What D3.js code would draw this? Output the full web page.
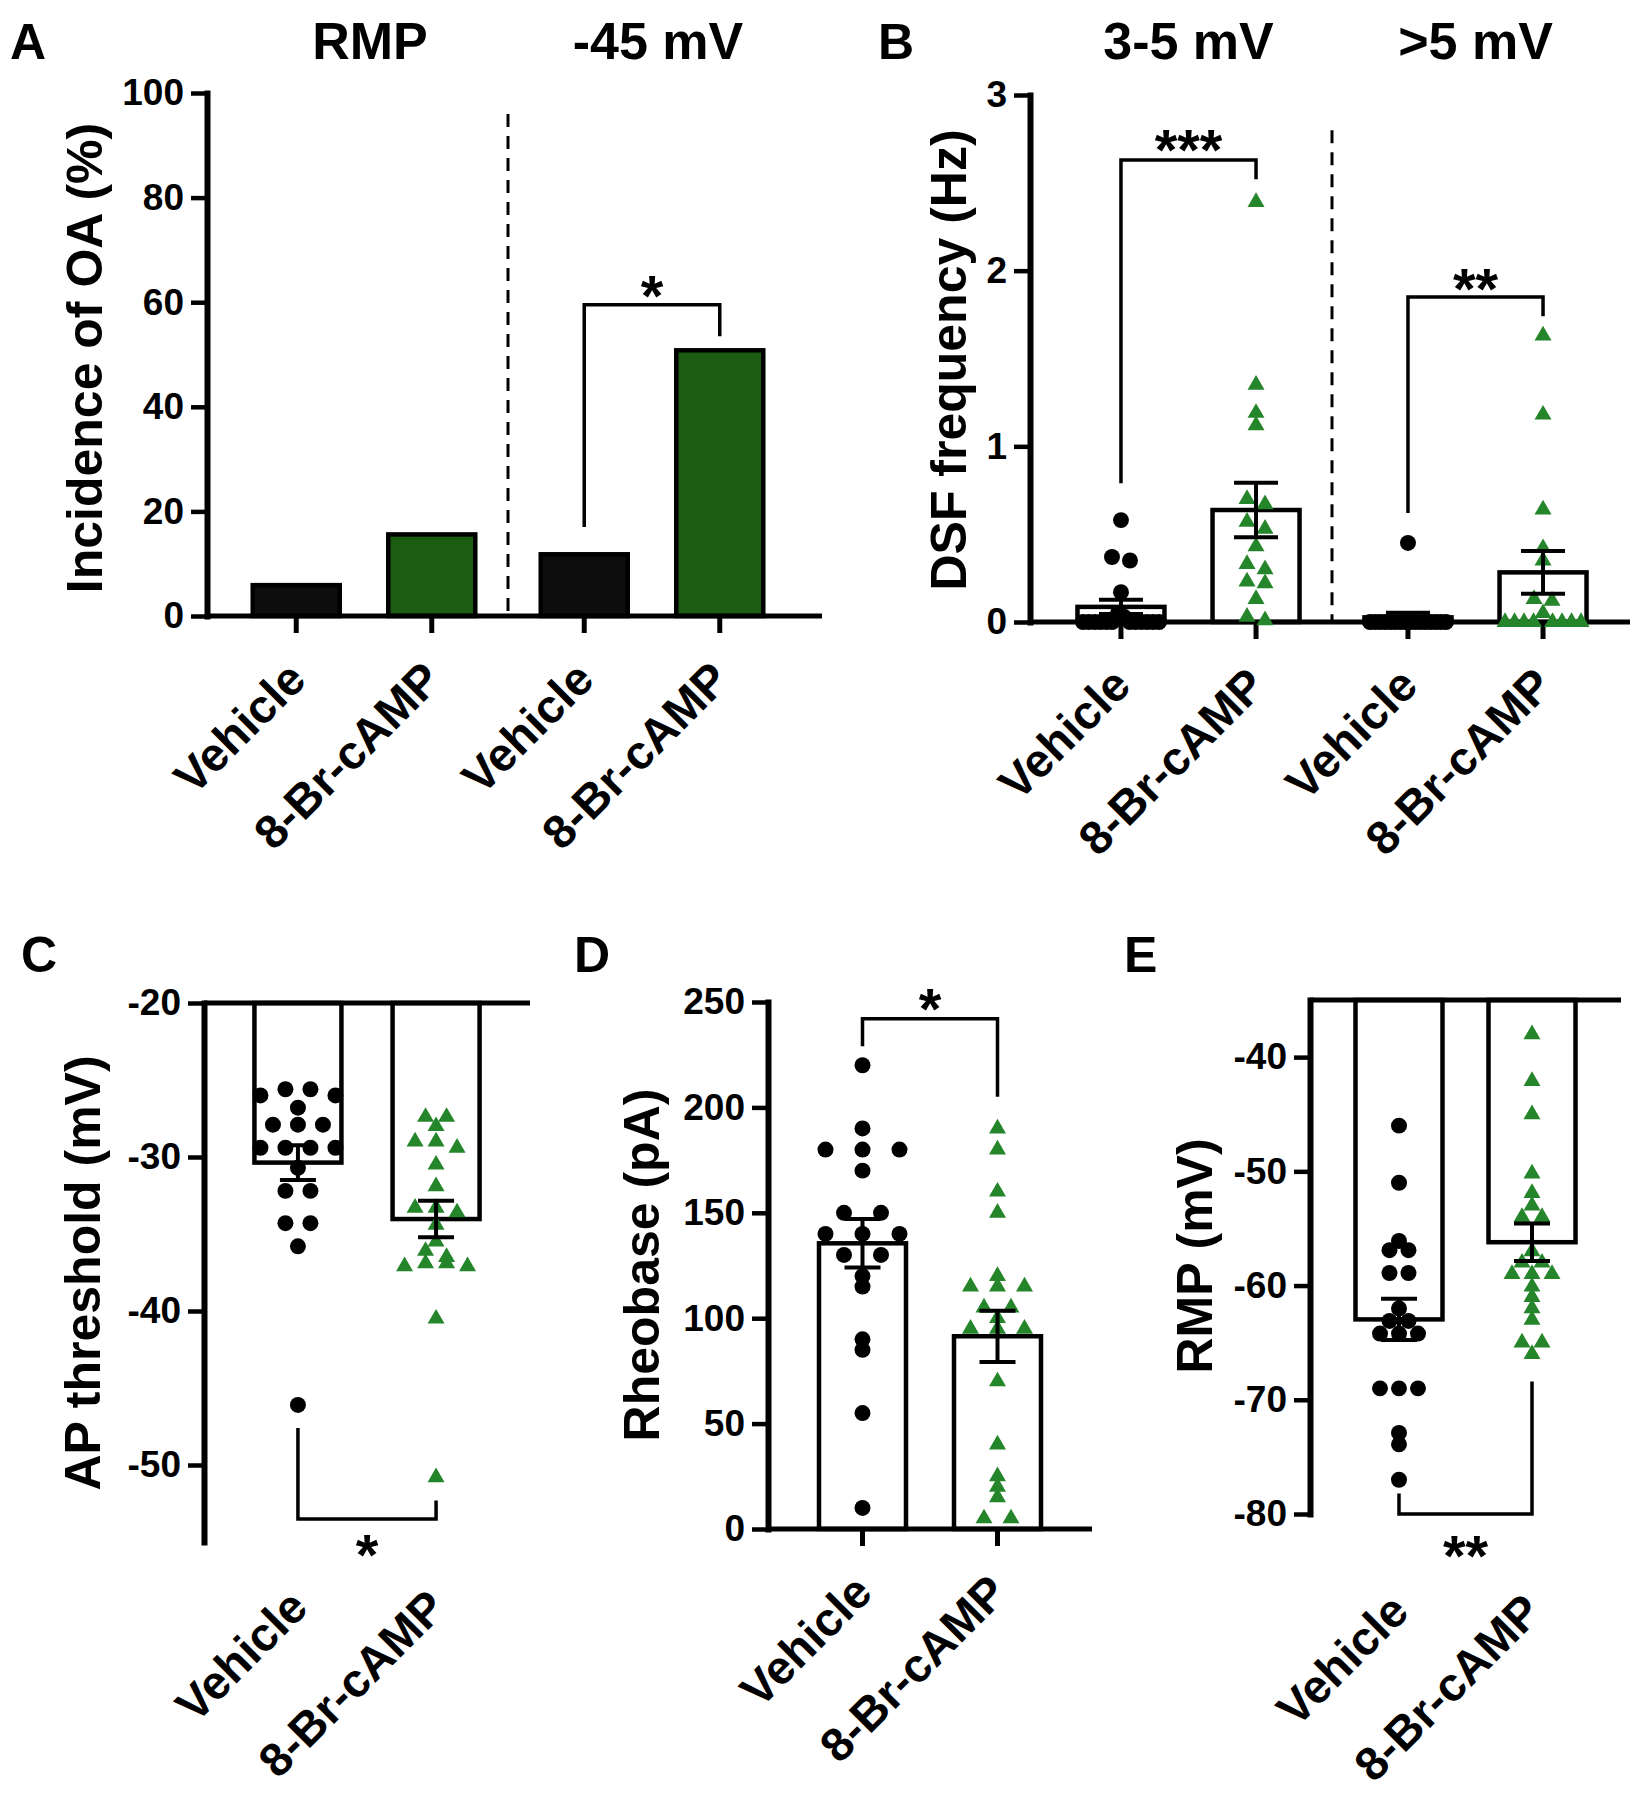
<!DOCTYPE html>
<html><head><meta charset="utf-8">
<script src="https://cdn.jsdelivr.net/npm/d3@7"></script>
<style>
body{margin:0;background:#fff;}
svg text{font-family:"Liberation Sans",Arial,Helvetica,sans-serif;font-weight:bold;fill:#000;}
</style></head><body>
<svg id="chart" width="1645" height="1800"></svg>
<script>
// ================= DATA =================
const conditions = ["Vehicle", "8-Br-cAMP"];

// Panel A – incidence of OA (%)
const groupsA = ["RMP", "-45 mV"];
const incidenceVehicle = [5.9, 11.8];
const incidenceCamp = [15.6, 50.8];
const ticksA = [0, 20, 40, 60, 80, 100];

// Panel B – DSF frequency (Hz)
const groupsB = ["3-5 mV", ">5 mV"];
const dsfVehicle35 = [0.58, 0.37, 0.35, 0.17, 0.05, 0.03, 0, 0, 0, 0, 0, 0, 0, 0, 0, 0, 0, 0];
const dsfCamp35 = [2.39, 1.35, 1.19, 1.12, 0.70, 0.67, 0.57, 0.53, 0.43, 0.33, 0.30, 0.23, 0.22, 0.13, 0.03, 0.01];
const dsfVehicle5 = [0.45, 0, 0, 0, 0, 0, 0, 0, 0, 0, 0, 0, 0, 0, 0, 0, 0];
const dsfCamp5 = [1.63, 1.18, 0.64, 0.42, 0.35, 0.13, 0.12, 0.05, 0, 0, 0, 0, 0, 0, 0, 0];
const ticksB = [0, 1, 2, 3];

// Panel C – AP threshold (mV)
const apVehicle = [-25.6, -25.6, -26.0, -26.0, -26.8, -27.9, -27.9, -27.9, -29.4, -29.4, -29.4, -29.4, -30.7, -32.2, -32.2, -34.3, -34.3, -35.8, -46.1];
const apCamp = [-27.4, -27.4, -28.0, -29.0, -29.0, -29.4, -30.5, -31.9, -33.3, -33.3, -33.6, -34.4, -35.5, -36.1, -36.5, -36.9, -36.9, -37.1, -37.1, -40.5, -50.8];
const ticksC = [-20, -30, -40, -50];

// Panel D – Rheobase (pA)
const rheoVehicle = [220, 190, 180, 180, 180, 170, 150, 150, 140, 140, 140, 130, 130, 120, 115, 90, 85, 55, 10];
const rheoCamp = [190, 180, 160, 150, 120, 115, 115, 115, 105, 105, 100, 95, 95, 95, 70, 40, 25, 20, 15, 5, 5];
const ticksD = [0, 50, 100, 150, 200, 250];

// Panel E – RMP (mV)
const rmpVehicle = [-46, -51, -56.1, -56.9, -56.9, -58.9, -58.9, -62, -63.1, -63.1, -64.2, -64.2, -64.2, -69, -69, -69, -72.9, -73.9, -77];
const rmpCamp = [-38, -42.1, -45, -50.2, -51.9, -53, -54, -54, -57, -58, -58, -59, -59, -59, -60.1, -61, -62, -63, -65, -65, -66];
const ticksE = [-40, -50, -60, -70, -80];

// significance annotations (data units): [leftFrom, top, rightFrom, starLevel, label]
const sigA = [17, 59.5, 53.5, 63.7, "*"];
const sigB1 = [0.79, 2.63, 2.52, 2.76, "***"];
const sigB2 = [0.62, 1.85, 1.74, 1.97, "**"];
const sigC = [-47.6, -53.5, -52.3, -55.0, "*"];
const sigD = [229, 242, 205, 252.8, "*"];
const sigE = [-78.2, -80, -68.4, -82.5, "**"];

// ================= STYLE =================
const BLACK = "#000";
const BAR_GREEN = "#1c5c12";
const PT_GREEN = "#25852a";
const FONT_TICK = 37, FONT_XLAB = 47, FONT_YTITLE = 50, FONT_TITLE = 52, FONT_LETTER = 50, FONT_STAR = 58;
const BAR_W = 87;

const svg = d3.select("#chart");
svg.append("rect").attr("width", 1645).attr("height", 1800).attr("fill", "#fff");

// ================= HELPERS =================
function yAxis(g, y, x, ticks) {
  const a = d3.axisLeft(y).tickValues(ticks).tickSize(16).tickSizeOuter(0).tickPadding(7)
    .tickFormat(d => String(d));
  const gg = g.append("g").attr("transform", `translate(${x},0)`).call(a);
  gg.attr("font-size", FONT_TICK);
  gg.select(".domain").attr("stroke", BLACK).attr("stroke-width", 6).attr("stroke-linecap", "square");
  gg.selectAll(".tick line").attr("stroke", BLACK).attr("stroke-width", 4.5);
  gg.selectAll(".tick text").attr("font-size", FONT_TICK);
}
function hLine(g, x1, x2, y, w) {
  g.append("line").attr("x1", x1).attr("x2", x2).attr("y1", y).attr("y2", y)
    .attr("stroke", BLACK).attr("stroke-width", w || 5);
}
function xTick(g, x, y) {
  g.append("line").attr("x1", x).attr("x2", x).attr("y1", y).attr("y2", y + 17)
    .attr("stroke", BLACK).attr("stroke-width", 5);
}
function xLabel(g, x, y, txt) {
  g.append("text").attr("transform", `translate(${x + 12},${y}) rotate(-45)`)
    .attr("text-anchor", "end").attr("font-size", FONT_XLAB).text(txt);
}
function yTitle(g, x, y, txt) {
  g.append("text").attr("transform", `translate(${x},${y}) rotate(-90)`)
    .attr("text-anchor", "middle").attr("dy", "0.35em").attr("font-size", FONT_YTITLE).text(txt);
}
function letter(g, x, y, txt) {
  g.append("text").attr("x", x).attr("y", y).attr("font-size", FONT_LETTER).text(txt);
}
function bar(g, x, y0, y1, fill) {
  g.append("rect").attr("x", x - BAR_W / 2).attr("width", BAR_W)
    .attr("y", Math.min(y0, y1)).attr("height", Math.abs(y1 - y0))
    .attr("fill", fill).attr("stroke", BLACK).attr("stroke-width", 4.5);
}
function swarm(values, y, cx, spacing, maxSpan, thr) {
  const pts = values.map(v => ({ v, py: y(v) })).sort((a, b) => a.py - b.py);
  const rows = [];
  for (const p of pts) {
    const r = rows[rows.length - 1];
    if (r && Math.abs(p.py - r[0].py) <= thr) r.push(p); else rows.push([p]);
  }
  rows.forEach(r => {
    const n = r.length;
    const sp = n > 1 ? Math.min(spacing, maxSpan / (n - 1)) : 0;
    const slots = d3.range(n).map(i => (i - (n - 1) / 2) * sp)
      .sort((a, b) => Math.abs(a) - Math.abs(b) || a - b);
    r.forEach((p, i) => p.px = cx + slots[i]);
  });
  return pts;
}
const circleGen = d3.symbol(d3.symbolCircle).size(200);
const triGen = d3.symbol(d3.symbolTriangle).size(125);
function points(g, values, y, cx, spacing, isCamp) {
  const pts = swarm(values, y, cx, spacing, 76, 9);
  g.append("g").selectAll("path").data(pts).join("path")
    .attr("transform", d => `translate(${d.px},${d.py})`)
    .attr("d", isCamp ? triGen : circleGen)
    .attr("fill", isCamp ? PT_GREEN : BLACK);
}
function errBar(g, values, y, cx, capW) {
  const m = d3.mean(values);
  const sem = d3.deviation(values) / Math.sqrt(values.length);
  const yt = y(m + sem), yb = y(m - sem);
  g.append("line").attr("x1", cx).attr("x2", cx).attr("y1", yt).attr("y2", yb)
    .attr("stroke", BLACK).attr("stroke-width", 4);
  [yt, yb].forEach(yy => g.append("line").attr("x1", cx - capW / 2).attr("x2", cx + capW / 2)
    .attr("y1", yy).attr("y2", yy).attr("stroke", BLACK).attr("stroke-width", 4));
}
function bracket(g, y, xL, xR, s) {
  g.append("path")
    .attr("d", `M${xL},${y(s[0])}V${y(s[1])}H${xR}V${y(s[2])}`)
    .attr("fill", "none").attr("stroke", BLACK).attr("stroke-width", 3.5);
  g.append("text").attr("x", (xL + xR) / 2).attr("y", y(s[3]) + FONT_STAR * 0.57)
    .attr("text-anchor", "middle").attr("font-size", FONT_STAR).text(s[4]);
}
function dashed(g, x, y1, y2) {
  g.append("line").attr("x1", x).attr("x2", x).attr("y1", y1).attr("y2", y2)
    .attr("stroke", BLACK).attr("stroke-width", 3).attr("stroke-dasharray", "13,9");
}

// ================= PANEL A =================
{
  const g = svg.append("g");
  const axisX = 207, right = 822;
  const y = d3.scaleLinear().domain([0, 100]).range([616, 93]);
  const outer = d3.scaleBand().domain(groupsA).range([220, 796]).padding(0);
  const inner = d3.scalePoint().domain(conditions).range([0, outer.bandwidth()]).padding(0.5625);
  const cx = (grp, c) => outer(grp) + inner(c);
  const vals = { "Vehicle": incidenceVehicle, "8-Br-cAMP": incidenceCamp };

  groupsA.forEach((grp, gi) => {
    conditions.forEach(c => {
      bar(g, cx(grp, c), y(0), y(vals[c][gi]), c === "Vehicle" ? "#0d0d0d" : BAR_GREEN);
      xTick(g, cx(grp, c), y(0));
      xLabel(g, cx(grp, c), y(0) + 66, c);
    });
    g.append("text").attr("x", outer(grp) + outer.bandwidth() / 2 + 6).attr("y", 59)
      .attr("text-anchor", "middle").attr("font-size", FONT_TITLE).text(grp);
  });
  dashed(g, outer(groupsA[1]), y(96), y(0));
  hLine(g, axisX, right, y(0), 5);
  yAxis(g, y, axisX, ticksA);
  bracket(g, y, cx(groupsA[1], "Vehicle"), cx(groupsA[1], "8-Br-cAMP"), sigA);
  yTitle(g, 84, 358, "Incidence of OA (%)");
  letter(g, 10, 59, "A");
}

// ================= PANEL B =================
{
  const g = svg.append("g");
  const axisX = 1030, right = 1630;
  const y = d3.scaleLinear().domain([0, 3]).range([622, 95]);
  const outer = d3.scaleBand().domain(groupsB).range([1045, 1619]).padding(0);
  const inner = d3.scalePoint().domain(conditions).range([0, outer.bandwidth()]).padding(0.5625);
  const cx = (grp, c) => outer(grp) + inner(c);
  const series = [
    [groupsB[0], "Vehicle", dsfVehicle35], [groupsB[0], "8-Br-cAMP", dsfCamp35],
    [groupsB[1], "Vehicle", dsfVehicle5], [groupsB[1], "8-Br-cAMP", dsfCamp5]
  ];
  series.forEach(([grp, c, v]) => bar(g, cx(grp, c), y(0), y(d3.mean(v)), "#fff"));
  dashed(g, outer(groupsB[1]), y(2.8), y(0));
  series.forEach(([grp, c, v]) => {
    xTick(g, cx(grp, c), y(0));
    xLabel(g, cx(grp, c), y(0) + 66, c);
  });
  hLine(g, axisX, right, y(0), 5);
  series.forEach(([grp, c, v]) => points(g, v, y, cx(grp, c), 18, c !== "Vehicle"));
  series.forEach(([grp, c, v]) => errBar(g, v, y, cx(grp, c), 44));
  yAxis(g, y, axisX, ticksB);
  groupsB.forEach(grp => g.append("text").attr("x", outer(grp) + outer.bandwidth() / 2).attr("y", 59)
    .attr("text-anchor", "middle").attr("font-size", FONT_TITLE).text(grp));
  bracket(g, y, cx(groupsB[0], "Vehicle"), cx(groupsB[0], "8-Br-cAMP"), sigB1);
  bracket(g, y, cx(groupsB[1], "Vehicle"), cx(groupsB[1], "8-Br-cAMP"), sigB2);
  yTitle(g, 948, 360, "DSF frequency (Hz)");
  letter(g, 878, 59, "B");
}

// ============ generic lower panel ============
function lowerPanel(opt) {
  const g = svg.append("g");
  const y = d3.scaleLinear().domain(opt.domain).range(opt.range);
  const x = d3.scalePoint().domain(conditions).range([opt.axisX, opt.right]).padding(opt.pad);
  const base = opt.domain[0];
  const sets = [opt.veh, opt.camp];
  conditions.forEach((c, i) => bar(g, x(c), y(base), y(d3.mean(sets[i])), "#fff"));
  conditions.forEach((c, i) => points(g, sets[i], y, x(c), opt.spacing[i], i === 1));
  conditions.forEach((c, i) => errBar(g, sets[i], y, x(c), 36));
  hLine(g, opt.axisX, opt.right, y(base), 5);
  if (opt.ticksX) conditions.forEach(c => xTick(g, x(c), y(base)));
  yAxis(g, y, opt.axisX, opt.ticks);
  conditions.forEach(c => xLabel(g, x(c), opt.labelY, c));
  bracket(g, y, x(conditions[0]), x(conditions[1]), opt.sig);
  yTitle(g, opt.titleX, opt.titleY, opt.title);
  letter(g, opt.letterX, 972, opt.letter);
}

lowerPanel({ domain: [-20, -55], range: [1003, 1542], axisX: 204, right: 530, pad: 0.68,
  veh: apVehicle, camp: apCamp, ticks: ticksC, spacing: [25, 21], ticksX: false,
  labelY: 1610, sig: sigC, title: "AP threshold (mV)", titleX: 82, titleY: 1273, letterX: 21, letter: "C" });

lowerPanel({ domain: [0, 250], range: [1529, 1002], axisX: 768, right: 1092, pad: 0.70,
  veh: rheoVehicle, camp: rheoCamp, ticks: ticksD, spacing: [37, 27], ticksX: true,
  labelY: 1595, sig: sigD, title: "Rheobase (pA)", titleX: 641, titleY: 1265, letterX: 574, letter: "D" });

lowerPanel({ domain: [-35, -80], range: [1000, 1514], axisX: 1310, right: 1621, pad: 0.669,
  veh: rmpVehicle, camp: rmpCamp, ticks: ticksE, spacing: [19, 20], ticksX: false,
  labelY: 1614, sig: sigE, title: "RMP (mV)", titleX: 1194, titleY: 1256, letterX: 1124, letter: "E" });
</script>
</body></html>
